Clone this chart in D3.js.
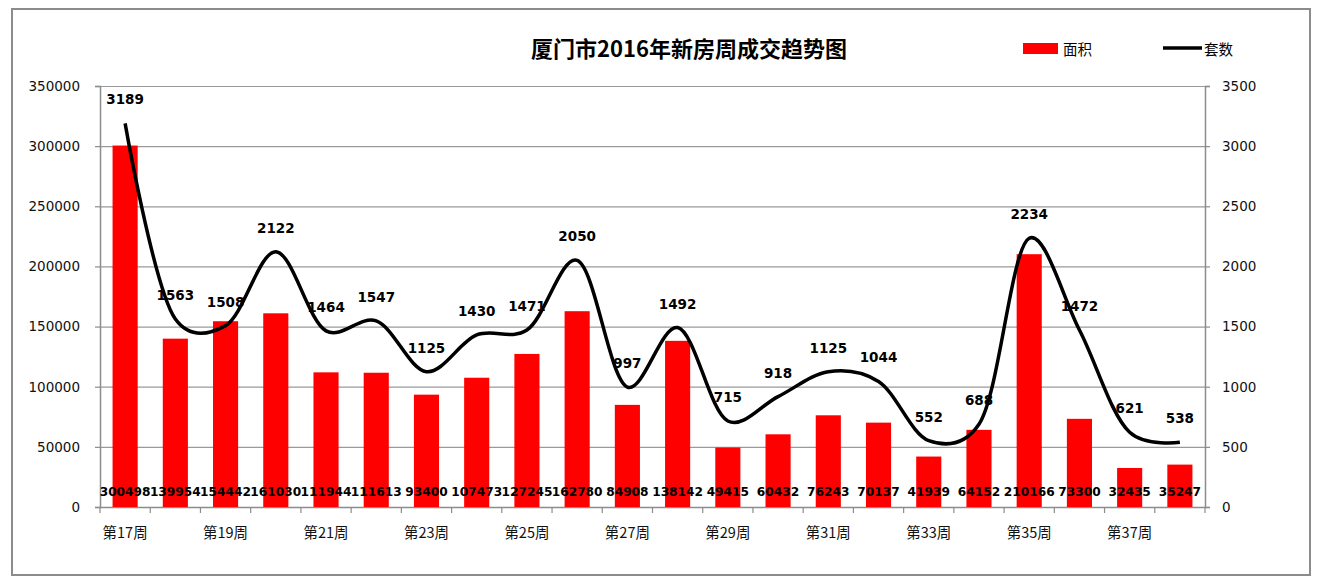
<!DOCTYPE html>
<html>
<head>
<meta charset="utf-8">
<script src="https://cdn.jsdelivr.net/npm/d3@7"></script>
<style>
  html, body { margin: 0; padding: 0; background: #fff; }
  svg { display: block; }
</style>
</head>
<body>
<svg id="chart" width="1320" height="588"></svg>
<script>
const weeks = ["第17周","第18周","第19周","第20周","第21周","第22周","第23周","第24周","第25周","第26周","第27周","第28周","第29周","第30周","第31周","第32周","第33周","第34周","第35周","第36周","第37周","第38周"];
const areaValues = [300498,139954,154442,161030,111944,111613,93400,107473,127245,162780,84908,138142,49415,60432,76243,70137,41939,64152,210166,73300,32435,35247];
const countValues = [3189,1563,1508,2122,1464,1547,1125,1430,1471,2050,997,1492,715,918,1125,1044,552,688,2234,1472,621,538];
const leftTicks = [0,50000,100000,150000,200000,250000,300000,350000];
const rightTicks = [0,500,1000,1500,2000,2500,3000,3500];
const titleText = "厦门市2016年新房周成交趋势图";
const legendArea = "面积";
const legendCount = "套数";

const svg = d3.select("#chart");
const L = 100, R = 1205, T = 86, B = 507;
const axisFont = "'DejaVu Sans', Verdana, sans-serif";
const cjkFont = "'Noto Sans CJK SC', sans-serif";

// outer border
svg.append("rect").attr("x", 12).attr("y", 9).attr("width", 1298).attr("height", 566)
  .attr("fill", "none").attr("stroke", "#8c8c8c").attr("stroke-width", 2);

const x = d3.scaleBand().domain(weeks).range([L, R]).paddingInner(0.5).paddingOuter(0.25);
const xBand = d3.scaleBand().domain(weeks).range([L, R]);
const yL = d3.scaleLinear().domain([0, 350000]).range([B, T]);
const yR = d3.scaleLinear().domain([0, 3500]).range([B, T]);

// gridlines
svg.append("g").selectAll("line").data(leftTicks.filter(d => d > 0)).join("line")
  .attr("x1", L).attr("x2", R).attr("y1", d => yL(d) + 0.5).attr("y2", d => yL(d) + 0.5)
  .attr("stroke", "#9a9a9a").attr("stroke-width", 1.2);

// left axis
const gL = svg.append("g").attr("transform", `translate(${L},0)`)
  .call(d3.axisLeft(yL).tickValues(leftTicks).tickSize(5).tickPadding(15).tickFormat(d3.format("d")));
gL.select(".domain").attr("stroke", "#8c8c8c").attr("stroke-width", 1.5);
gL.selectAll(".tick line").attr("stroke", "#8c8c8c").attr("stroke-width", 1.2);
gL.selectAll("text").attr("font-family", axisFont).attr("font-size", "13.5px").attr("fill", "#111");

// right axis
const gR = svg.append("g").attr("transform", `translate(${R},0)`)
  .call(d3.axisRight(yR).tickValues(rightTicks).tickSize(5).tickPadding(12).tickFormat(d3.format("d")));
gR.select(".domain").attr("stroke", "#8c8c8c").attr("stroke-width", 1.5);
gR.selectAll(".tick line").attr("stroke", "#8c8c8c").attr("stroke-width", 1.2);
gR.selectAll("text").attr("font-family", axisFont).attr("font-size", "13.5px").attr("fill", "#111");

// bottom axis
svg.append("line").attr("x1", L).attr("x2", R).attr("y1", B + 0.5).attr("y2", B + 0.5)
  .attr("stroke", "#8c8c8c").attr("stroke-width", 1.5);
const boundaries = weeks.map(w => xBand(w)).concat([R]);
svg.append("g").selectAll("line").data(boundaries).join("line")
  .attr("x1", d => d).attr("x2", d => d).attr("y1", B).attr("y2", B + 6)
  .attr("stroke", "#8c8c8c").attr("stroke-width", 1.2);
svg.append("g").selectAll("text").data(weeks.filter((d, i) => i % 2 === 0)).join("text")
  .attr("x", d => xBand(d) + xBand.bandwidth() / 2).attr("y", 531)
  .attr("text-anchor", "middle").attr("dominant-baseline", "central")
  .attr("font-family", cjkFont).attr("font-size", "14.5px").attr("fill", "#111")
  .text(d => d);

// bars
svg.append("g").selectAll("rect").data(areaValues).join("rect")
  .attr("x", (d, i) => x(weeks[i])).attr("width", x.bandwidth())
  .attr("y", d => yL(d)).attr("height", d => B - yL(d))
  .attr("fill", "#ff0000");

// line
const line = d3.line().x((d, i) => xBand(weeks[i]) + xBand.bandwidth() / 2).y(d => yR(d))
  .curve(d3.curveCatmullRom.alpha(0.25));
svg.append("path").datum(countValues).attr("d", line)
  .attr("fill", "none").attr("stroke", "#000").attr("stroke-width", 3.5);

// bar labels
svg.append("g").selectAll("text").data(areaValues).join("text")
  .attr("x", (d, i) => xBand(weeks[i]) + xBand.bandwidth() / 2).attr("y", 492)
  .attr("text-anchor", "middle").attr("dominant-baseline", "central")
  .attr("font-family", axisFont).attr("font-weight", "bold").attr("font-size", "12.2px").attr("fill", "#000")
  .text(d => d);

// line labels
svg.append("g").selectAll("text").data(countValues).join("text")
  .attr("x", (d, i) => xBand(weeks[i]) + xBand.bandwidth() / 2).attr("y", d => yR(d) - 24)
  .attr("text-anchor", "middle").attr("dominant-baseline", "central")
  .attr("font-family", axisFont).attr("font-weight", "bold").attr("font-size", "13.5px").attr("fill", "#000")
  .text(d => d);

// title
svg.append("text").attr("x", 689).attr("y", 47)
  .attr("text-anchor", "middle").attr("dominant-baseline", "central")
  .attr("font-family", cjkFont).attr("font-weight", "bold").attr("font-size", "22px").attr("fill", "#000")
  .text(titleText);

// legend
svg.append("rect").attr("x", 1023).attr("y", 43).attr("width", 35).attr("height", 11).attr("fill", "#ff0000");
svg.append("text").attr("x", 1063).attr("y", 48).attr("dominant-baseline", "central")
  .attr("font-family", cjkFont).attr("font-size", "14.5px").attr("fill", "#000").text(legendArea);
svg.append("line").attr("x1", 1163).attr("x2", 1202).attr("y1", 48).attr("y2", 48)
  .attr("stroke", "#000").attr("stroke-width", 3.5);
svg.append("text").attr("x", 1204).attr("y", 48).attr("dominant-baseline", "central")
  .attr("font-family", cjkFont).attr("font-size", "14.5px").attr("fill", "#000").text(legendCount);
</script>
</body>
</html>
